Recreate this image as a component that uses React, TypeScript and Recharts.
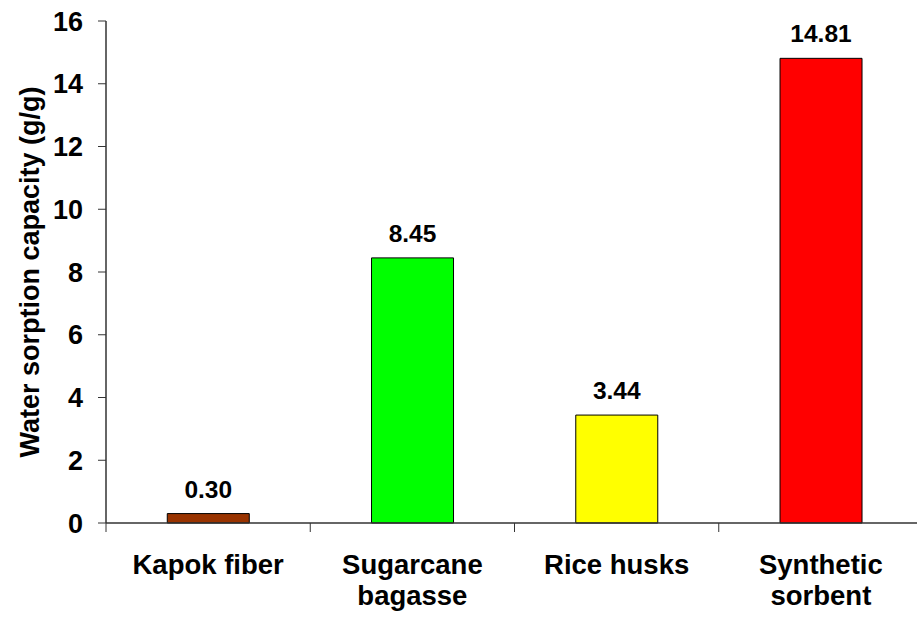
import { BarChart, Bar, XAxis, YAxis, Cell, LabelList, Label } from "recharts";

const categories = ["Kapok fiber", "Sugarcane bagasse", "Rice husks", "Synthetic sorbent"];
const categoryLines = [["Kapok fiber"], ["Sugarcane", "bagasse"], ["Rice husks"], ["Synthetic", "sorbent"]];
const capacities = [0.3, 8.45, 3.44, 14.81];
const barColors = ["#993300", "#00ff00", "#ffff00", "#ff0000"];
const yTicks = [0, 2, 4, 6, 8, 10, 12, 14, 16];
const yTitle = "Water sorption capacity (g/g)";

const data = categories.map((name, i) => ({
  name,
  value: capacities[i],
  label: capacities[i].toFixed(2),
}));

const FONT = "'Liberation Sans', Arial, Helvetica, sans-serif";
const AXIS = "#333333";

const CategoryTick = (props: any) => {
  const { x, y, payload, index } = props;
  const half = payload && payload.offset ? payload.offset : 102;
  const lines = categoryLines[index] || [payload.value];
  return (
    <g>
      <line x1={x - half} y1={y} x2={x - half} y2={y + 9} stroke={AXIS} strokeWidth={1} />
      <text
        x={x}
        y={y + 51}
        textAnchor="middle"
        fontFamily={FONT}
        fontWeight="bold"
        fontSize={27.5}
        fill="#000"
      >
        {lines.map((ln, i) => (
          <tspan key={i} x={x} dy={i === 0 ? 0 : 31}>
            {ln}
          </tspan>
        ))}
      </text>
    </g>
  );
};

const YTitle = (props: any) => {
  const vb = props.viewBox || { x: 0, y: 21, height: 502 };
  const tx = vb.x + 39;
  const ty = vb.y + vb.height / 2;
  return (
    <text
      x={tx}
      y={ty}
      textAnchor="middle"
      transform={`rotate(-90, ${tx}, ${ty})`}
      fontFamily={FONT}
      fontWeight="bold"
      fontSize={27}
      fill="#000"
    >
      {yTitle}
    </text>
  );
};

const YTick = (props: any) => {
  const { x, y, payload } = props;
  return (
    <text
      x={x}
      y={y + 9.5}
      textAnchor="end"
      fontFamily={FONT}
      fontWeight="bold"
      fontSize={27}
      fill="#000"
    >
      {payload.value}
    </text>
  );
};

export default function App() {
  return (
    <div
      style={{
        position: "absolute",
        left: 0,
        top: 0,
        width: 917,
        height: 618,
        overflow: "hidden",
        background: "#fff",
      }}
    >
      <BarChart
        width={930}
        height={618}
        data={data}
        margin={{ top: 21, right: 7, left: 0, bottom: 0 }}
        barCategoryGap="30%"
      >
        <XAxis
          dataKey="name"
          height={95}
          axisLine={{ stroke: AXIS, strokeWidth: 1.5 }}
          tickLine={false}
          tickSize={0}
          tickMargin={0}
          interval={0}
          tick={<CategoryTick />}
        />
        <YAxis
          width={106}
          domain={[0, 16]}
          ticks={yTicks}
          interval={0}
          axisLine={{ stroke: AXIS, strokeWidth: 1.5 }}
          tickLine={{ stroke: AXIS }}
          tickSize={8}
          tickMargin={15}
          tick={<YTick />}
        >
          <Label content={<YTitle />} />
        </YAxis>
        <Bar dataKey="value" isAnimationActive={false} stroke="#000" strokeWidth={1}>
          {data.map((d, i) => (
            <Cell key={d.name} fill={barColors[i]} />
          ))}
          <LabelList
            dataKey="label"
            position="top"
            offset={16}
            fill="#000"
            fontSize={24.5}
            fontWeight="bold"
            fontFamily={FONT}
          />
        </Bar>
      </BarChart>
    </div>
  );
}
